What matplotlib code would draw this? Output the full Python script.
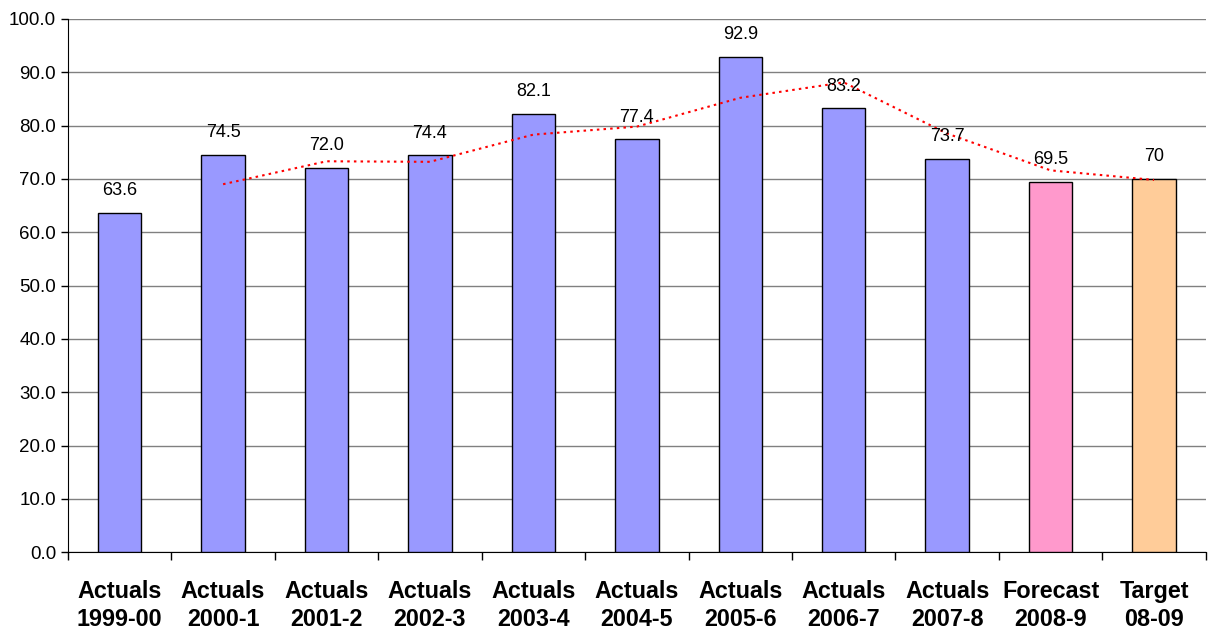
#!/usr/bin/env python3
"""Actuals / forecast / target bar chart with moving average trend."""

import matplotlib
matplotlib.use('Agg')
import matplotlib.pyplot as plt
import numpy as np

plt.rcParams.update({
    'font.family': ['Liberation Sans', 'DejaVu Sans'],
    'font.size': 13,
})

categories = ['Actuals\n1999-00', 'Actuals\n2000-1', 'Actuals\n2001-2', 'Actuals\n2002-3',
              'Actuals\n2003-4', 'Actuals\n2004-5', 'Actuals\n2005-6', 'Actuals\n2006-7',
              'Actuals\n2007-8', 'Forecast\n2008-9', 'Target\n08-09']
values = [63.6, 74.5, 72.0, 74.4, 82.1, 77.4, 92.9, 83.2, 73.7, 69.5, 70.0]
value_labels = ['63.6', '74.5', '72.0', '74.4', '82.1', '77.4', '92.9', '83.2', '73.7', '69.5', '70']
bar_colors = ['#9999ff'] * 9 + ['#ff99cc', '#ffcc99']
# 2-period moving average trend, starting at the second bar
trend = [69.0, 73.3, 73.2, 78.3, 79.8, 85.2, 88.1, 78.5, 71.6, 69.8]

fig = plt.figure(figsize=(12.13, 6.29), dpi=100)
ax = fig.add_axes([0.056, 0.122, 0.938, 0.848])

x = np.arange(len(categories))
ax.bar(x, values, width=0.42, color=bar_colors, edgecolor='black', linewidth=1, zorder=3)

for xi, v, lab in zip(x, values, value_labels):
    ax.text(xi, v + 2.6, lab, ha='center', va='bottom', fontsize=13, zorder=5)

ax.plot(x[1:], trend, color='red', linestyle=(0, (1.2, 2.0)), linewidth=1.5, zorder=4)

ax.set_xlim(-0.5, len(categories) - 0.5)
ax.set_ylim(0, 100)
ax.set_yticks(np.arange(0, 101, 10))
ax.set_yticklabels([f'{t:.1f}' for t in np.arange(0, 101, 10)], fontsize=13.5)
ax.yaxis.grid(True, color='#808080', linewidth=1)
ax.set_axisbelow(True)

# category labels between ticks at boundaries
ax.set_xticks(x)
ax.set_xticklabels(categories, fontsize=16.8, fontweight='bold', linespacing=1.3)
ax.tick_params(axis='x', length=0, pad=20)
ax.set_xticks(np.arange(-0.5, len(categories)), minor=True)
ax.tick_params(axis='x', which='minor', length=6, width=1, color='black')
ax.tick_params(axis='y', length=5, width=1, color='black')

for s in ['top', 'right']:
    ax.spines[s].set_visible(False)
ax.spines['left'].set_color('black')
ax.spines['bottom'].set_color('black')

fig.savefig('out.png', dpi=100)
plt.close()
